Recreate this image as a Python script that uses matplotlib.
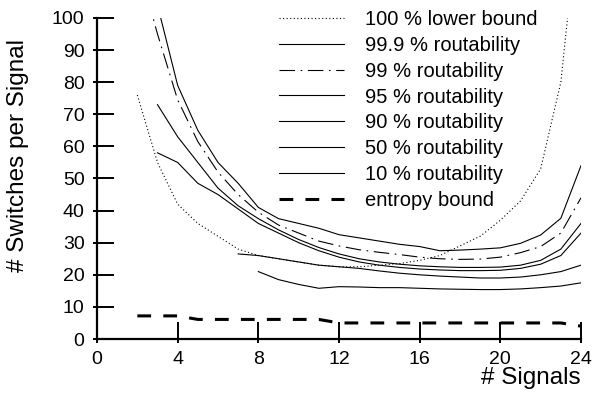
import matplotlib
matplotlib.use("Agg")
import matplotlib.pyplot as plt
from matplotlib.ticker import FixedLocator

plt.rcParams["font.family"] = ["Liberation Sans", "DejaVu Sans"]

# values
x_lower = [2, 3, 4, 5, 6, 7, 8, 9, 10, 11, 12, 13, 14, 15, 16, 17, 18, 19, 20, 21, 22, 23, 24]
lower_bound = [76, 55, 42, 36, 32, 28, 26, 25, 24, 23, 22.5, 22.5, 23, 23.5, 24.5, 26, 29, 32,
               37, 43, 53, 80, 140]

x_route = [3, 4, 5, 6, 7, 8, 9, 10, 11, 12, 13, 14, 15, 16, 17, 18, 19, 20, 21, 22, 23, 24]
r999 = [104, 79, 65, 55, 48.5, 41, 37.5, 36, 34.5, 32.5, 31.5, 30.5, 29.5, 28.8, 27.5, 27.7,
        28, 28.4, 29.8, 32.4, 37.6, 54]
x_r99 = [2] + x_route
r99 = [118, 95, 74.5, 61.5, 52, 45, 39.5, 35.5, 33, 30.5, 29, 27.8, 27, 26.3, 25.5, 25, 24.8,
       24.9, 25.5, 26.9, 28.8, 33, 44]
r95 = [73, 63, 55, 47, 41.5, 37.5, 34, 31, 28.5, 26.5, 25, 24, 23.3, 22.8, 22.5, 22.3, 22.3,
       22.4, 23, 24.5, 28, 36]
r90 = [58, 55, 48.5, 45, 40.5, 36, 33, 30, 27.5, 25.5, 24, 23, 22.3, 21.8, 21.5, 21.3, 21.3,
       21.4, 22, 23.3, 26, 33]

x_r50 = [7, 8, 9, 10, 11, 12, 13, 14, 15, 16, 17, 18, 19, 20, 21, 22, 23, 24]
r50 = [26.5, 26, 25, 24, 23, 22.5, 22, 21.2, 20.5, 20, 19.6, 19.3, 19, 19, 19.3, 20, 21, 23]

x_r10 = [8, 9, 10, 11, 12, 13, 14, 15, 16, 17, 18, 19, 20, 21, 22, 23, 24]
r10 = [21, 18.5, 17, 15.8, 16.3, 16.2, 16, 16, 15.8, 15.6, 15.5, 15.4, 15.4, 15.6, 16, 16.5, 17.5]

x_entropy = [2, 3, 4, 5, 6, 7, 8, 9, 10, 11, 12, 13, 14, 15, 16, 17, 18, 19, 20, 21, 22, 23, 24]
entropy = [7.2, 7.2, 7.2, 6.1, 6.1, 6.1, 6.1, 6.1, 6.1, 6.1, 5.0, 5.0, 5.0, 5.0, 5.0, 5.0, 5.0,
           5.0, 5.0, 5.0, 5.0, 5.0, 4.0]

xticks = [0, 4, 8, 12, 16, 20, 24]
yticks = list(range(0, 101, 10))

fig = plt.figure(figsize=(5.95, 4.04), dpi=100)
ax = fig.add_axes([97 / 595, 65 / 404, 484 / 595, 321 / 404])

lw = 0.8
ax.plot(x_lower, lower_bound, color="black", lw=lw, ls=(0, (1, 2.2)), label="100 % lower bound")
ax.plot(x_route, r999, color="black", lw=lw, label="99.9 % routability")
ax.plot(x_r99, r99, color="black", lw=lw, ls=(0, (14, 5, 1.5, 5)), label="99 % routability")
ax.plot(x_route, r95, color="black", lw=lw, label="95 % routability")
ax.plot(x_route, r90, color="black", lw=lw, label="90 % routability")
ax.plot(x_r50, r50, color="black", lw=lw, label="50 % routability")
ax.plot(x_r10, r10, color="black", lw=lw, label="10 % routability")
ax.plot(x_entropy, entropy, color="black", lw=2.2, ls=(0, (4.5, 4)), label="entropy bound")

ax.set_xlim(0, 24)
ax.set_ylim(0, 100)
ax.spines["top"].set_visible(False)
ax.spines["right"].set_visible(False)
for s in ("left", "bottom"):
    ax.spines[s].set_linewidth(1.6)

ax.xaxis.set_major_locator(FixedLocator(xticks))
ax.yaxis.set_major_locator(FixedLocator(yticks))
ax.xaxis.set_minor_locator(FixedLocator(xticks))
ax.yaxis.set_minor_locator(FixedLocator(yticks))
ax.xaxis.remove_overlapping_locs = False
ax.yaxis.remove_overlapping_locs = False
ax.tick_params(which="major", direction="in", length=12, width=1.4, labelsize=14, pad=9)
ax.tick_params(which="minor", direction="out", length=3, width=1.4, labelbottom=False,
               labelleft=False)

ax.set_xlabel("# Signals", fontsize=17.5, loc="right", labelpad=-1)
ax.set_ylabel("# Switches per Signal", fontsize=17.5)
ax.yaxis.set_label_coords(-0.14, 0.573)

ax.legend(loc="upper left", bbox_to_anchor=(0.36, 1.05), frameon=False, fontsize=14.5,
          handlelength=3.2, handletextpad=1.05, labelspacing=0.34, borderaxespad=0)

fig.savefig("out.png", dpi=100)
